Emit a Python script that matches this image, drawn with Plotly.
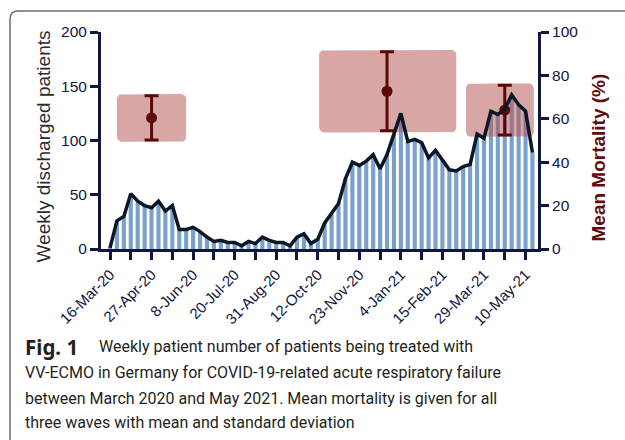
import plotly.graph_objects as go

# ---------------- data ----------------
weeks = list(range(62))  # week index, week 0 = 16-Mar-2020
discharged = [1, 26, 30, 51, 44, 40, 38, 44, 35, 40,
              18, 18, 20, 16, 11, 7, 8, 6, 6, 3,
              7, 5, 11, 8, 6, 6, 3, 11, 14, 5,
              9, 24, 33, 42, 65, 80, 77, 81, 87, 74,
              87, 106, 125, 99, 101, 98, 84, 91, 82, 73,
              72, 76, 78, 106, 102, 127, 124, 129, 142, 133,
              127, 89]
tick_weeks = list(range(0, 61, 3))
tick_labels = ["16-Mar-20", "", "27-Apr-20", "", "8-Jun-20", "", "20-Jul-20", "",
               "31-Aug-20", "", "12-Oct-20", "", "23-Nov-20", "", "4-Jan-21", "",
               "15-Feb-21", "", "29-Mar-21", "", "10-May-21"]
left_ticks = [0, 50, 100, 150, 200]
right_ticks = [0, 20, 40, 60, 80, 100]
wave_week = [6, 40, 57]
mortality_mean = [60.4, 72.7, 64.0]
mortality_sd = [10.2, 18.2, 11.5]

left_title = "Weekly discharged patients"
right_title = "Mean Mortality (%)"
caption_label = "Fig. 1"
caption_lines = [
    "Weekly patient number of patients being treated with",
    "VV-ECMO in Germany for COVID-19-related acute respiratory failure",
    "between March 2020 and May 2021. Mean mortality is given for all",
    "three waves with mean and standard deviation",
]

# ---------------- layout constants ----------------
W, H = 625, 440
ML, MR, MT, MB = 101, 87, 32, 191
PW, PH = W - ML - MR, H - MT - MB
XR = [-1.3, 61.8]
BOX_SPAN = [(1.0, 11.0), (30.2, 50.0), (51.4, 61.2)]
BOX_PAD = 0.8
RADIUS_PX = 5
NAVY = "#10163f"
LINE = "#0b1626"
MAROON = "#5b0a0a"


def px_x(px):
    return (px - ML) / PW


def px_y(py):
    return (H - MB - py) / PH


def rounded_rect(x0, x1, y0, y1, rx, ry, n=8):
    import math
    xs, ys = [], []
    corners = [(x1 - rx, y1 - ry, 0), (x0 + rx, y1 - ry, 90),
               (x0 + rx, y0 + ry, 180), (x1 - rx, y0 + ry, 270)]
    for cx, cy, a0 in corners:
        for k in range(n + 1):
            a = math.radians(a0 + 90 * k / n)
            xs.append(cx + rx * math.cos(a))
            ys.append(cy + ry * math.sin(a))
    xs.append(xs[0])
    ys.append(ys[0])
    return xs, ys


rx = RADIUS_PX / (PW / (XR[1] - XR[0]))
ry = RADIUS_PX / (PH / 100.0)

fig = go.Figure()

fig.add_trace(go.Bar(x=weeks, y=discharged, width=0.6,
                     marker=dict(color="#7aa0cd", line=dict(width=0)),
                     yaxis="y", hoverinfo="skip"))

for (bx0, bx1), m, s in zip(BOX_SPAN, mortality_mean, mortality_sd):
    xs, ys = rounded_rect(bx0, bx1, m - s - BOX_PAD, m + s + BOX_PAD, rx, ry)
    fig.add_trace(go.Scatter(x=xs, y=ys, mode="lines", fill="toself",
                             fillcolor="rgba(180,85,80,0.52)",
                             line=dict(width=0), yaxis="y2", hoverinfo="skip"))

fig.add_trace(go.Scatter(x=wave_week, y=mortality_mean, mode="markers",
                         marker=dict(color=MAROON, size=11),
                         error_y=dict(type="data", array=mortality_sd, visible=True,
                                      color=MAROON, thickness=3, width=7),
                         yaxis="y2"))

fig.add_trace(go.Scatter(x=weeks, y=discharged, mode="lines",
                         line=dict(color=LINE, width=3.5),
                         yaxis="y3", hoverinfo="skip"))

tickfont = dict(family="Liberation Sans, Arial", size=15.5, color=NAVY)

fig.update_layout(
    width=W, height=H, showlegend=False,
    margin=dict(l=ML, r=MR, t=MT, b=MB, pad=0, autoexpand=False),
    paper_bgcolor="white", plot_bgcolor="white",
    xaxis=dict(range=XR, tickmode="array", tickvals=tick_weeks, ticktext=tick_labels,
               tickangle=-45, ticks="outside", ticklen=8, tickwidth=3, tickcolor=NAVY,
               showline=True, linecolor=NAVY, linewidth=3, showgrid=False,
               zeroline=False, tickfont=dict(family="Liberation Sans, Arial",
                                             size=15, color=NAVY),
               automargin=False),
    yaxis=dict(range=[0, 200], tickvals=left_ticks, ticks="outside", ticklen=8,
               tickwidth=3, tickcolor=NAVY, showline=True, linecolor=NAVY,
               linewidth=3, showgrid=False, zeroline=False, tickfont=tickfont,
               automargin=False),
    yaxis2=dict(range=[0, 100], tickvals=right_ticks, overlaying="y", side="right",
                ticks="outside", ticklen=8, tickwidth=3, tickcolor=NAVY,
                showline=True, linecolor=NAVY, linewidth=3, showgrid=False,
                zeroline=False, tickfont=tickfont, automargin=False),
    yaxis3=dict(range=[0, 200], overlaying="y", visible=False, automargin=False),
)

# axis titles (placed like the original, not centred on the axes)
fig.add_annotation(text=left_title, xref="paper", yref="paper",
                   x=px_x(43), y=px_y(146.5), xanchor="center", yanchor="middle",
                   textangle=-90, showarrow=False,
                   font=dict(family="Liberation Sans, Arial", size=19, color="#2b2b2b"))
fig.add_annotation(text=right_title, xref="paper", yref="paper",
                   x=px_x(598), y=px_y(157.5), xanchor="center", yanchor="middle",
                   textangle=-90, showarrow=False,
                   font=dict(family="Liberation Sans, Arial", size=19,
                             color="#5e0c0c", weight="bold"))

# rounded frame around the figure (extends beyond page edges)
r = 8
fx0, fy0 = 10, 11
fig.add_shape(type="path", xref="paper", yref="paper",
              path=(f"M {px_x(fx0)},{px_y(470)} L {px_x(fx0)},{px_y(fy0 + r)} "
                    f"Q {px_x(fx0)},{px_y(fy0)} {px_x(fx0 + r)},{px_y(fy0)} "
                    f"L {px_x(660)},{px_y(fy0)}"),
              line=dict(color="#6d6d6d", width=1.5), layer="above")

cap_font = dict(family="Roboto", size=16, color="#231f20")
cap_y = [346.5, 372.5, 398, 423]
fig.add_annotation(text=f"<b>{caption_label}</b>", xref="paper", yref="paper",
                   x=px_x(23), y=px_y(cap_y[0]), xanchor="left", yanchor="middle",
                   showarrow=False,
                   font=dict(family="Noto Sans", size=20.5, color="#231f20"))
for i, line in enumerate(caption_lines):
    fig.add_annotation(text=line, xref="paper", yref="paper",
                       x=px_x(97 if i == 0 else 23), y=px_y(cap_y[i]),
                       xanchor="left", yanchor="middle", showarrow=False,
                       font=cap_font)

fig.write_html("out.html", config={"displayModeBar": False},
               post_script="document.body.style.margin='0px';")
